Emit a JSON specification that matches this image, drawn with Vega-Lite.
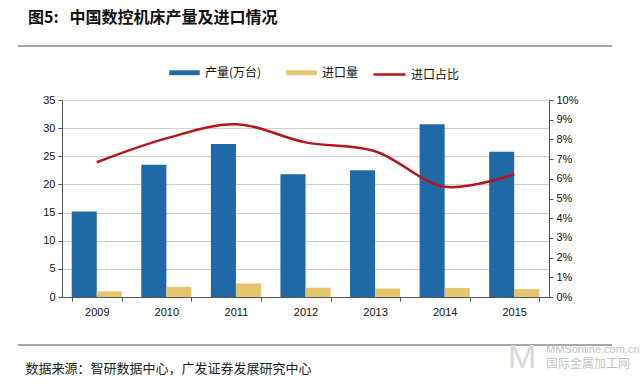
{
  "$schema": "https://vega.github.io/schema/vega-lite/v6.json",
  "autosize": "none",
  "width": 487,
  "height": 197,
  "padding": {"left": 62, "top": 100, "right": 91, "bottom": 93},
  "background": "white",
  "config": {"view": {"stroke": null}, "font": "Liberation Sans"},
  "title": {
    "text": "图5:\u00a0\u00a0\u00a0中国数控机床产量及进口情况",
    "anchor": "start",
    "frame": "group",
    "dx": -34,
    "offset": 19,
    "font": "Noto Sans CJK SC",
    "fontSize": 16,
    "fontWeight": "bold",
    "color": "#111111"
  },
  "data": {"values": [
    {"year": "2009", "prod": 15.2, "imp": 1.0, "ratio": 0.0684},
    {"year": "2010", "prod": 23.5, "imp": 1.8, "ratio": 0.0805},
    {"year": "2011", "prod": 27.2, "imp": 2.4, "ratio": 0.0877},
    {"year": "2012", "prod": 21.8, "imp": 1.65, "ratio": 0.0785},
    {"year": "2013", "prod": 22.5, "imp": 1.5, "ratio": 0.074},
    {"year": "2014", "prod": 30.7, "imp": 1.6, "ratio": 0.056},
    {"year": "2015", "prod": 25.8, "imp": 1.4, "ratio": 0.0623}
  ]},
  "encoding": {
    "x": {
      "field": "year", "type": "nominal",
      "scale": {"paddingInner": 0.28, "paddingOuter": 0.14},
      "axis": {
        "title": "数据来源：智研数据中心，广发证券发展研究中心",
        "titleFont": "Noto Sans CJK SC",
        "titleFontSize": 13,
        "titleFontWeight": "normal",
        "titleColor": "#222222",
        "titleAnchor": "start",
        "titleAlign": "left",
        "titleBaseline": "middle",
        "titleX": -37,
        "titleY": 71,
        "labelAngle": 0,
        "labelFontSize": 11,
        "labelColor": "#111111",
        "labelPadding": 5,
        "domainColor": "#555555",
        "tickColor": "#555555",
        "tickBand": "extent",
        "tickSize": 4
      }
    }
  },
  "layer": [
    {
      "data": {"values": [{"k": "a"}]},
      "mark": {"type": "rule", "color": "#8a8a8a", "strokeWidth": 1.5},
      "encoding": {"x": {"value": -44}, "x2": {"value": 550}, "y": {"value": -54}}
    },
    {
      "data": {"values": [{"k": "a"}]},
      "mark": {"type": "rule", "color": "#8a8a8a", "strokeWidth": 1.5},
      "encoding": {"x": {"value": -44}, "x2": {"value": 550}, "y": {"value": 245}}
    },
    {
      "data": {"values": [{"t": "MMSonline.com.cn"}]},
      "mark": {"type": "text", "align": "left", "baseline": "middle", "font": "Liberation Sans", "fontSize": 11, "color": "#c4c4c4"},
      "encoding": {"x": {"value": 484}, "y": {"value": 250}, "text": {"field": "t"}}
    },
    {
      "data": {"values": [{"t": "国际金属加工网"}]},
      "mark": {"type": "text", "align": "left", "baseline": "middle", "font": "Noto Sans CJK SC", "fontSize": 12, "color": "#c4c4c4"},
      "encoding": {"x": {"value": 484}, "y": {"value": 264}, "text": {"field": "t"}}
    },
    {
      "data": {"values": [{"t": "M"}]},
      "mark": {"type": "text", "align": "left", "baseline": "middle", "font": "Liberation Sans", "fontSize": 34, "color": "#d8d8d8"},
      "encoding": {"x": {"value": 446}, "y": {"value": 258}, "text": {"field": "t"}}
    },
    {
      "transform": [{"fold": ["prod", "imp"], "as": ["key", "value"]}],
      "mark": {"type": "bar"},
      "encoding": {
        "xOffset": {"field": "key", "type": "nominal", "sort": ["prod", "imp"], "scale": {"paddingInner": 0, "paddingOuter": 0}},
        "y": {
          "field": "value", "type": "quantitative",
          "scale": {"domain": [0, 35], "nice": false},
          "axis": {
            "title": null,
            "values": [0, 5, 10, 15, 20, 25, 30, 35],
            "labelFontSize": 11,
            "labelColor": "#111111",
            "labelPadding": 3,
            "domainColor": "#555555",
            "tickColor": "#555555",
            "tickSize": 4,
            "gridColor": "#cfcfcf",
            "gridWidth": 1
          }
        },
        "fill": {
          "field": "key", "type": "nominal",
          "scale": {"domain": ["prod", "imp"], "range": ["#1f69a6", "#e6c56c"]},
          "legend": {
            "orient": "none",
            "direction": "horizontal",
            "legendX": 107,
            "legendY": -43,
            "title": null,
            "labelExpr": "datum.value == 'prod' ? '产量(万台)' : '进口量'",
            "labelFont": "Noto Sans CJK SC",
            "labelFontSize": 12,
            "labelColor": "#111111",
            "labelOffset": 5,
            "columnPadding": 24,
            "symbolType": "M-1,-0.16H1V0.16H-1Z",
            "symbolSize": 930,
            "symbolStrokeWidth": 0,
            "padding": 0
          }
        }
      }
    },
    {
      "mark": {"type": "line", "interpolate": "catmull-rom", "strokeWidth": 2.5},
      "encoding": {
        "y": {
          "field": "ratio", "type": "quantitative",
          "scale": {"domain": [0, 0.1], "nice": false},
          "axis": {
            "orient": "right",
            "title": null,
            "format": ".0%",
            "values": [0, 0.01, 0.02, 0.03, 0.04, 0.05, 0.06, 0.07, 0.08, 0.09, 0.1],
            "grid": false,
            "labelFontSize": 11,
            "labelColor": "#111111",
            "labelPadding": 3,
            "domainColor": "#555555",
            "tickColor": "#555555",
            "tickSize": 4
          }
        },
        "stroke": {
          "datum": "进口占比",
          "scale": {"range": ["#b8141c"]},
          "legend": {
            "orient": "none",
            "direction": "horizontal",
            "legendX": 310,
            "legendY": -43,
            "title": null,
            "labelFont": "Noto Sans CJK SC",
            "labelFontSize": 12,
            "labelColor": "#111111",
            "labelOffset": 4,
            "symbolType": "stroke",
            "symbolSize": 1024,
            "symbolStrokeWidth": 2.5,
            "padding": 0
          }
        }
      }
    }
  ],
  "resolve": {"scale": {"y": "independent"}}
}
